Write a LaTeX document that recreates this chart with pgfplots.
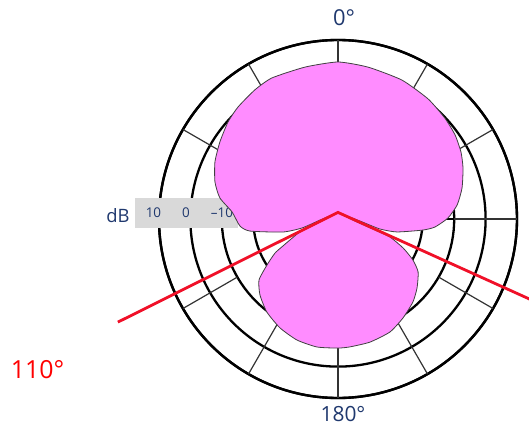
\documentclass[border=0pt]{standalone}
\usepackage{fontspec}
\setmainfont{Open Sans}
\usepackage{pgfplots}
\usepackage{pgfplotstable}
\usepgfplotslibrary{polar}
\pgfplotsset{compat=1.18}
\definecolor{pinkfill}{RGB}{255,140,255}
\definecolor{navy}{RGB}{31,56,110}
\definecolor{boxgray}{RGB}{217,217,217}
\definecolor{redline}{RGB}{240,16,40}

% t = angle clockwise from the front (0 deg at top), r = radius (ring 10 dB = 57, 0 dB = 47, -10 dB = 37, -20 dB = 27)
% front lobe, from the null point round to the null point
\pgfplotstableread{
t r
0 2.1
266.8 5.7
256.0 11.8
256.7 18.0
262.2 28.3
265.9 31.3
273.8 33.8
280.1 38.2
286.7 40.9
294.9 43.2
303.1 44.9
311.4 46.7
318.2 47.8
327.2 48.9
334.9 49.6
347.8 49.5
360 50.0
11.2 49.3
24.7 48.7
36.9 47.8
46.6 46.8
54.3 45.9
61.4 44.6
67.8 43.0
76.0 40.7
83.3 38.2
89.5 35.0
94.7 31.0
97.4 27.3
102.4 19.2
103.4 13.7
95.2 7.0
0 2.1
}\frontlobe

% rear lobe
\pgfplotstableread{
t r
0 2.1
96.7 5.4
106.6 12.3
109.1 17.5
114.0 22.7
118.7 27.2
123.5 30.6
131.1 33.4
137.9 35.6
146.7 37.7
155.3 39.6
165.4 40.5
174.6 40.9
180 41.1
189.3 41.3
198.7 40.7
208.0 39.3
217.4 37.3
225.7 34.7
232.3 31.8
237.1 26.9
241.6 22.8
243.9 19.5
246.4 16.7
251.1 12.8
260.5 5.8
0 2.1
}\rearlobe

\pgfplotstableread{
t r
244.9 77.4
0 2.1
112.7 66.6
}\reddata

\begin{document}
\begin{tikzpicture}
\begin{polaraxis}[
  at={(0,0)}, anchor=center,
  width=358bp, height=358bp, scale only axis,
  xmin=0, xmax=360, ymin=0, ymax=57,
  xtick=\empty, ytick={27,37,47,57}, yticklabels={},
  major tick length=0pt,
  ymajorgrids, xmajorgrids=false,
  y grid style={black, line width=2.3bp},
  axis line style={black, line width=2.4bp},
  clip=false,
]
\pgfplotsinvokeforeach{0,30,...,330}{
  \addplot[draw=black!80, line width=1.2bp] coordinates {(#1,37) (#1,57)};
}
\fill[boxgray] ([shift={(-203bp,-9bp)}]axis cs:0,0) rectangle ([shift={(-100bp,21bp)}]axis cs:0,0);
\node[text=navy, font=\fontsize{13.5}{13.5}\selectfont] at ([shift={(-184.5bp,6bp)}]axis cs:0,0) {10};
\node[text=navy, font=\fontsize{13.5}{13.5}\selectfont] at ([shift={(-152bp,6bp)}]axis cs:0,0) {0};
\node[text=navy, font=\fontsize{13.5}{13.5}\selectfont] at ([shift={(-116bp,6bp)}]axis cs:0,0) {–10};
\addplot[fill=pinkfill, draw=black!75, line width=0.8bp, smooth, tension=0.35] table[x expr=90-\thisrow{t}, y=r] {\frontlobe};
\addplot[fill=pinkfill, draw=black!75, line width=0.8bp, smooth, tension=0.35] table[x expr=90-\thisrow{t}, y=r] {\rearlobe};
\addplot[redline, line width=2.8bp] table[x expr=90-\thisrow{t}, y=r] {\reddata};
\end{polaraxis}
\node[text=navy, font=\fontsize{22}{22}\selectfont] at (6bp,201bp) {0°};
\node[text=navy, font=\fontsize{21}{21}\selectfont] at (5bp,-195bp) {180°};
\node[text=navy, font=\fontsize{18.5}{18.5}\selectfont] at (-220bp,3bp) {dB};
\node[text=red, font=\fontsize{25}{25}\selectfont] at (-300.5bp,-150.5bp) {110°};
\pgfresetboundingbox
\path[use as bounding box] (-338bp,-209bp) rectangle (191bp,219bp);
\end{tikzpicture}
\end{document}
